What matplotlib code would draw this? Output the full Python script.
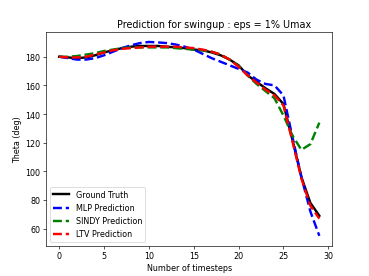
import matplotlib
matplotlib.use("Agg")
import matplotlib.pyplot as plt

steps = list(range(30))

ground_truth = [180, 179.5, 179, 179.5, 181, 183, 184.5, 186, 187, 187.5,
                187.5, 187.5, 187, 186.5, 186, 185, 184.5, 183, 181, 178,
                174, 167, 162.5, 158, 154, 147, 122, 96, 78, 69]
mlp_pred = [180, 179, 178, 178, 179, 181, 183.5, 186, 188, 189.5,
            190.3, 190, 189.5, 188.5, 187, 185, 182, 179, 176.5, 174,
            171.5, 169, 164, 161, 160, 153, 124, 96, 72, 55]
sindy_pred = [180, 180, 180.5, 181.5, 182.5, 184, 185, 186, 186.5, 186.5,
              186.5, 186.5, 186.5, 186, 185.5, 185, 184.5, 183.5, 181.5, 178,
              173.5, 167, 161, 156, 151, 139, 125, 115, 119, 134]
ltv_pred = [180, 179.5, 179.5, 180, 181.5, 183, 184.5, 185.5, 186, 186.5,
            187, 187, 187, 187, 186.5, 186, 185, 183.5, 181.5, 178,
            173, 167, 162, 157, 153, 146, 121, 95, 76, 67]

fig = plt.figure(figsize=(6.4, 4.8), dpi=57.7)

plt.plot(steps, ground_truth, 'k-', linewidth=3, label='Ground Truth')
plt.plot(steps, mlp_pred, 'b--', linewidth=3, label='MLP Prediction')
plt.plot(steps, sindy_pred, 'g--', linewidth=3, label='SINDY Prediction')
plt.plot(steps, ltv_pred, 'r--', linewidth=3, label='LTV Prediction')

plt.xlabel('Number of timesteps')
plt.ylabel('Theta (deg)')
# title sits a bit right of centre in the original
plt.title('Prediction for swingup : eps = 1% Umax', x=0.587)
plt.legend(loc='lower left')

plt.savefig('out.png', dpi=57.7)
